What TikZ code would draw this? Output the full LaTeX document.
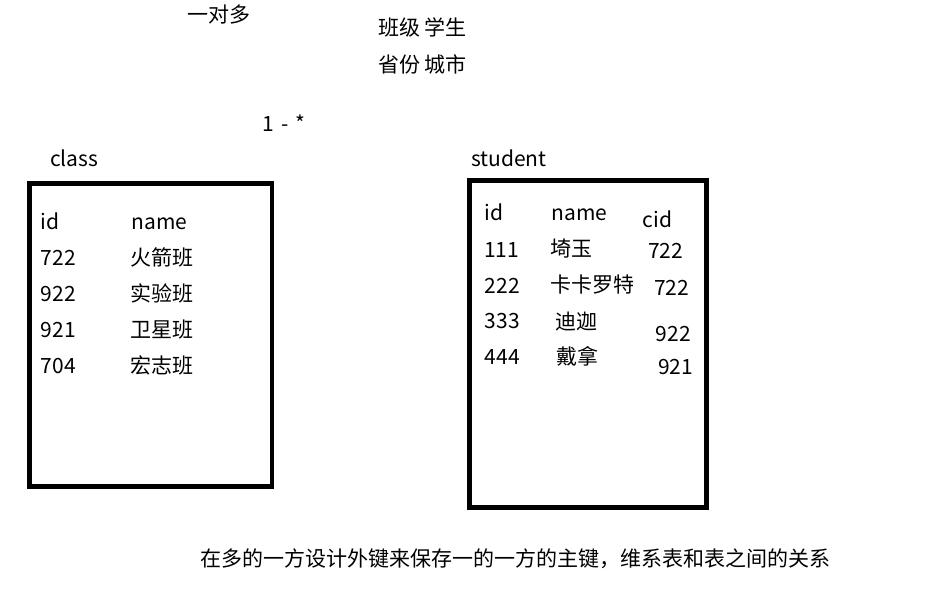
\documentclass[tikz,border=0pt]{standalone}
\usepackage{fontspec}
\setmainfont{Noto Sans CJK SC}
\usepackage{tikz}
\usetikzlibrary{positioning}

\begin{document}
\begin{tikzpicture}[x=1pt,y=-1pt,
	cell/.style={anchor=base west,inner sep=0pt,font=\fontsize{21}{25}\selectfont},
	tablebox/.style={draw,line width=4.7pt,inner sep=0pt}]
					\useasboundingbox (0,0) rectangle (927,609);
					\node[cell] (t_rel) at (187,22.5) {一对多};
					\node[cell] (t_ex1) at (378,35.5) {班级 学生};
					\node[cell] (t_ex2) at (378,72.5) {省份 城市};
					\node[cell] (t_card) at (262,131.7) {1\hspace{0.35em}-\hspace{0.35em}*};
					% class
					\node[cell] (c_title) at (50,166.7) {class};
					\node[tablebox,minimum width=242.3,minimum height=302.6] (c_box) at (150.85,335) {};
					\node[cell] (c_id) at (40.5,230) {id};
					\node[cell] (c_name) at (131.5,230) {name};
					\node[cell] (c_1) at (40.5,266) {722};
					\node[cell] (c_2) at (40.5,302) {922};
					\node[cell] (c_3) at (40.5,338) {921};
					\node[cell] (c_4) at (40.5,374) {704};
					\node[cell] (c_n1) at (130,266) {火箭班};
					\node[cell] (c_n2) at (130,302) {实验班};
					\node[cell] (c_n3) at (130,338) {卫星班};
					\node[cell] (c_n4) at (130,374) {宏志班};
					% student
					\node[cell] (s_title) at (471,166.7) {student};
					\node[tablebox,minimum width=236.6,minimum height=326.6] (s_box) at (588,344) {};
					\node[cell] (s_id) at (484.5,220.7) {id};
					\node[cell] (s_name) at (551.5,220.7) {name};
					\node[cell] (s_cid) at (642.5,227.3) {cid};
					\node[cell] (s_1) at (484,257.3) {111};
					\node[cell] (s_2) at (484.5,293.3) {222};
					\node[cell] (s_3) at (484.5,329) {333};
					\node[cell] (s_4) at (484.5,365) {444};
					\node[cell] (s_n1) at (550,256.7) {埼玉};
					\node[cell] (s_n2) at (550.5,293) {卡卡罗特};
					\node[cell] (s_n3) at (555.5,330) {迪迦};
					\node[cell] (s_n4) at (556,365) {戴拿};
					\node[cell] (s_c1) at (648,259) {722};
					\node[cell] (s_c2) at (654,295.7) {722};
					\node[cell] (s_c3) at (655.5,341.7) {922};
					\node[cell] (s_c4) at (658,375) {921};
					\node[cell] (t_note) at (200.5,566.7) {在多的一方设计外键来保存一的一方的主键，维系表和表之间的关系};
				\end{tikzpicture}
\end{document}
